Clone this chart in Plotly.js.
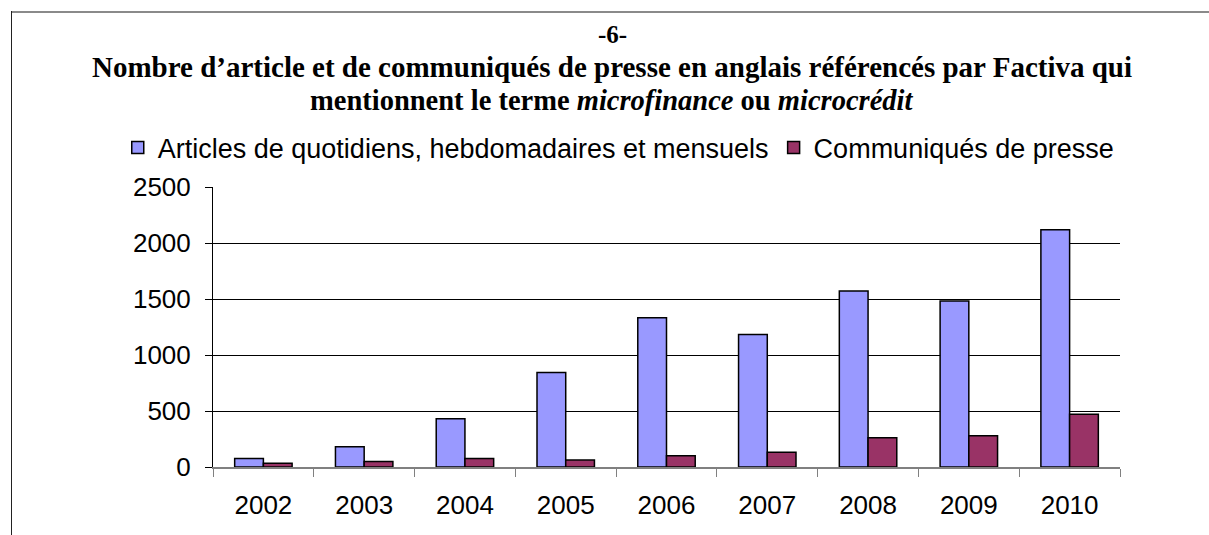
<!DOCTYPE html>
<html>
<head>
<meta charset="utf-8">
<script src="https://cdn.plot.ly/plotly-3.0.1.min.js"></script>
<style>
html,body{margin:0;padding:0;background:#fff;}
#wrap{position:relative;width:1209px;height:535px;overflow:hidden;}
#chart{position:absolute;left:0;top:0;width:1209px;height:535px;}
#ftop{position:absolute;left:11px;top:11px;width:1198px;height:0;border-top:2px solid #8a8a8a;z-index:5;}
#fleft{position:absolute;left:11px;top:11px;width:0;height:524px;border-left:1px solid #222;z-index:5;}
</style>
</head>
<body>
<div id="wrap">
<div id="chart"></div>
<div id="ftop"></div>
<div id="fleft"></div>
</div>
<script>
const years = ["2002","2003","2004","2005","2006","2007","2008","2009","2010"];
const articles = [75, 180, 430, 843, 1333, 1184, 1571, 1482, 2119];
const communiques = [33, 48, 75, 62, 101, 131, 262, 280, 470];
const seriesNames = ["Articles de quotidiens, hebdomadaires et mensuels", "Communiqués de presse"];
const yTicks = [0, 500, 1000, 1500, 2000, 2500];
const titleLines = ["-6-",
  "Nombre d’article et de communiqués de presse en anglais référencés par Factiva qui",
  "mentionnent le terme <i>microfinance</i> ou <i>microcrédit</i>"];

const sansFont = "Liberation Sans, Arial, sans-serif";
const serifFont = "Liberation Serif, Times New Roman, serif";

const traces = [
  {type:"bar", name:seriesNames[0], x:years, y:articles,
   marker:{color:"#9999FF", line:{color:"#000", width:1.5}}},
  {type:"bar", name:seriesNames[1], x:years, y:communiques,
   marker:{color:"#993366", line:{color:"#000", width:1.5}}}
];

const layout = {
  width:1209, height:535,
  paper_bgcolor:"#fff", plot_bgcolor:"#fff",
  margin:{l:213, r:89, t:187, b:68},
  barmode:"group", bargap:0.43, bargroupgap:0,
  showlegend:true,
  title:{
    text:"<b>"+titleLines[1]+"</b>",
    font:{family:serifFont, size:29, color:"#000"},
    x:612/1209, xref:"container", xanchor:"center",
    y:1-67/535, yref:"container", yanchor:"middle"
  },
  annotations:[
    {text:"<b>"+titleLines[0]+"</b>", xref:"paper", yref:"paper",
     x:(612-213)/907, y:(467-35)/280, xanchor:"center", yanchor:"middle",
     showarrow:false, font:{family:serifFont, size:25, color:"#000"}},
    {text:"<b>"+titleLines[2]+"</b>", xref:"paper", yref:"paper",
     x:(611-213)/907, y:(467-100)/280, xanchor:"center", yanchor:"middle",
     showarrow:false, font:{family:serifFont, size:28.5, color:"#000"}}
  ],
  legend:{
    orientation:"h", x:-0.105, xanchor:"left", y:1.0+(187-148)/280, yanchor:"middle",
    font:{family:sansFont, size:27, color:"#000"},
    bgcolor:"rgba(0,0,0,0)", itemwidth:30, tracegroupgap:0
  },
  xaxis:{
    type:"category", tickson:"boundaries", ticks:"outside", ticklen:8, tickcolor:"#808080",
    showline:true, linecolor:"#808080", linewidth:2,
    tickfont:{family:sansFont, size:26, color:"#000"},
    ticklabelstandoff:14,
    showgrid:false, zeroline:false, fixedrange:true
  },
  yaxis:{
    range:[0,2500], tickvals:yTicks, ticktext:yTicks.map(String),
    ticks:"outside", ticklen:7, tickcolor:"#000",
    showline:true, linecolor:"#000", linewidth:1,
    showgrid:true, gridcolor:"#000", gridwidth:1,
    zeroline:false, ticklabelstandoff:9,
    tickfont:{family:sansFont, size:26, color:"#000"},
    fixedrange:true
  }
};

Plotly.newPlot("chart", traces, layout, {staticPlot:true, displayModeBar:false});
</script>
</body>
</html>
